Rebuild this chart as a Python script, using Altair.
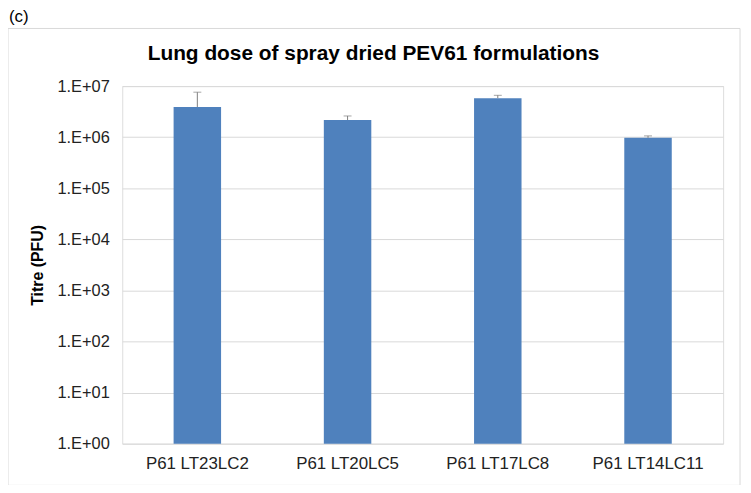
import altair as alt
import pandas as pd

categories = ["P61 LT23LC2", "P61 LT20LC5", "P61 LT17LC8", "P61 LT14LC11"]
titre = [3.9e6, 2.17e6, 5.8e6, 9.7e5]
titre_upper = [7.6e6, 2.6e6, 6.6e6, 1.06e6]
y_ticks = [1, 10, 100, 1e3, 1e4, 1e5, 1e6, 1e7]

df = pd.DataFrame({"cat": categories, "titre": titre, "upper": titre_upper})

FONT = "Liberation Sans"
W, H = 605, 360

x_enc = alt.X("cat:N", sort=categories, title=None,
              scale=alt.Scale(paddingInner=0.684, paddingOuter=0.342),
              axis=alt.Axis(labelAngle=0, labelFontSize=17, labelColor="#222222",
                            labelFont=FONT, ticks=False, domain=False, labelPadding=12,
                            grid=False))
y_scale = alt.Scale(type="log", domain=[1, 1e7])
label_expr = "'1.E+' + (round(log(datum.value)/LN10) < 10 ? '0' : '') + format(round(log(datum.value)/LN10), 'd')"

base = alt.Chart(df)

bars = base.mark_bar(color="#4f81bd").encode(
    x=x_enc,
    y=alt.Y("titre:Q", scale=y_scale, title="Titre (PFU)",
            axis=alt.Axis(values=y_ticks, labelExpr=label_expr, labelFontSize=16.5,
                          labelColor="#222222", labelFont=FONT, ticks=False, domain=False,
                          labelPadding=13, gridColor="#d9d9d9", gridWidth=1,
                          titleFont=FONT, titleFontSize=16, titleFontWeight="bold",
                          titleColor="#000000", titlePadding=12)),
    y2=alt.datum(1),
)

err = base.mark_rule(color="#7f7f7f", strokeWidth=1).encode(
    x=alt.X("cat:N", sort=categories),
    y=alt.Y("titre:Q", scale=y_scale),
    y2="upper:Q",
)
caps = base.mark_tick(color="#7f7f7f", thickness=1, size=8, orient="horizontal").encode(
    x=alt.X("cat:N", sort=categories),
    y=alt.Y("upper:Q", scale=y_scale),
)

border = alt.Chart(pd.DataFrame({"a": [0]})).mark_rect(
    fill=None, stroke="#d9d9d9", strokeWidth=1
).encode(x=alt.value(-115), x2=alt.value(622), y=alt.value(-58), y2=alt.value(402))

label_c = alt.Chart(pd.DataFrame({"t": ["(c)"]})).mark_text(
    align="left", baseline="alphabetic", fontSize=17, font=FONT, color="#000000"
).encode(text="t:N", x=alt.value(-114), y=alt.value(-65))

title_txt = alt.Chart(pd.DataFrame({"t": ["Lung dose of spray dried PEV61 formulations"]})).mark_text(
    align="center", baseline="middle", fontSize=21, font=FONT, fontWeight="bold", color="#000000"
).encode(text="t:N", x=alt.value(253), y=alt.value(-32))

chart = alt.layer(border, bars, err, caps, label_c, title_txt).properties(
    width=W, height=H,
    autosize=alt.AutoSizeParams(type="none"),
    padding={"left": 115, "top": 77, "right": 20, "bottom": 40},
).configure_view(stroke=None).configure(background="white")

chart.save("out.html", embed_options={"renderer": "svg", "actions": False})
